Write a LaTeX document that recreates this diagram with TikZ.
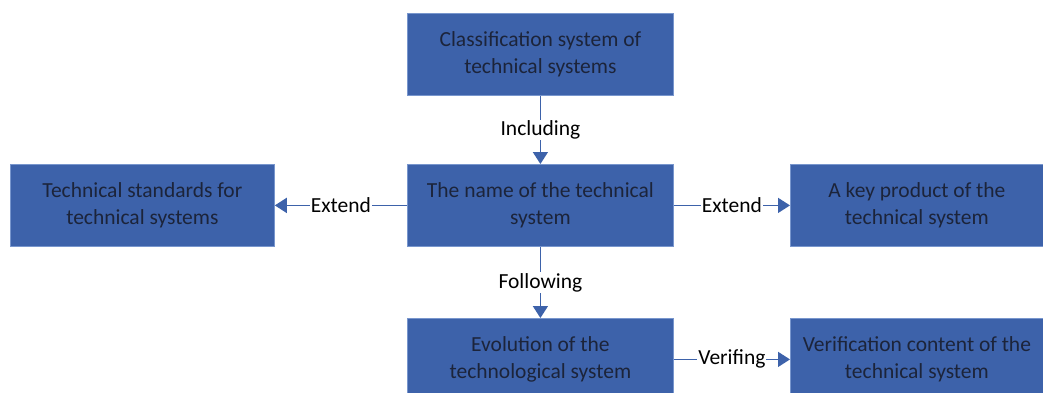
\documentclass[tikz,border=0pt]{standalone}
\usepackage{fontspec}
\setmainfont{Carlito}
\usetikzlibrary{arrows.meta}
\definecolor{boxblue}{RGB}{61,98,170}
\definecolor{boxedge}{RGB}{120,150,205}
\definecolor{boxtext}{RGB}{28,36,58}
\begin{document}
\begin{tikzpicture}[x=1pt,y=-1pt,
  box/.style={fill=boxblue, draw=boxedge, line width=0.8pt, anchor=north west,
    inner sep=0pt, minimum height=82pt, align=center, text=boxtext,
    font=\fontsize{21.5}{27}\selectfont},
  link/.style={draw=boxblue, line width=1.6pt, -{Triangle[width=15pt,length=12pt]}},
  lbl/.style={fill=white, inner sep=1pt, text=black, font=\fontsize{21.5}{24}\selectfont}]
\useasboundingbox (0,0) rectangle (1043,392);
\clip (0,0) rectangle (1043,392);

% boxes
\node[box, minimum width=266pt] (top) at (407,13) {Classification system of\\technical systems};
\node[box, minimum width=266pt] (mid) at (407,164) {The name of the technical\\system};
\node[box, minimum width=264pt] (std) at (10,164) {Technical standards for\\technical systems};
\node[box, minimum width=253pt] (prod) at (790,164) {A key product of the\\technical system};
\node[box, minimum width=266pt] (evo) at (407,318) {Evolution of the\\technological system};
\node[box, minimum width=253pt] (ver) at (790,318) {Verification content of the\\technical system};

% connectors
\draw[link] (top.south) -- node[lbl] {Including} (mid.north);
\draw[link] (mid.west) -- node[lbl] {Extend} (std.east);
\draw[link] (mid.east) -- node[lbl] {Extend} (prod.west);
\draw[link] (mid.south) -- node[lbl] {Following} (evo.north);
\draw[link] (evo.east) -- node[lbl] {Verifing} (ver.west);
\end{tikzpicture}
\end{document}
